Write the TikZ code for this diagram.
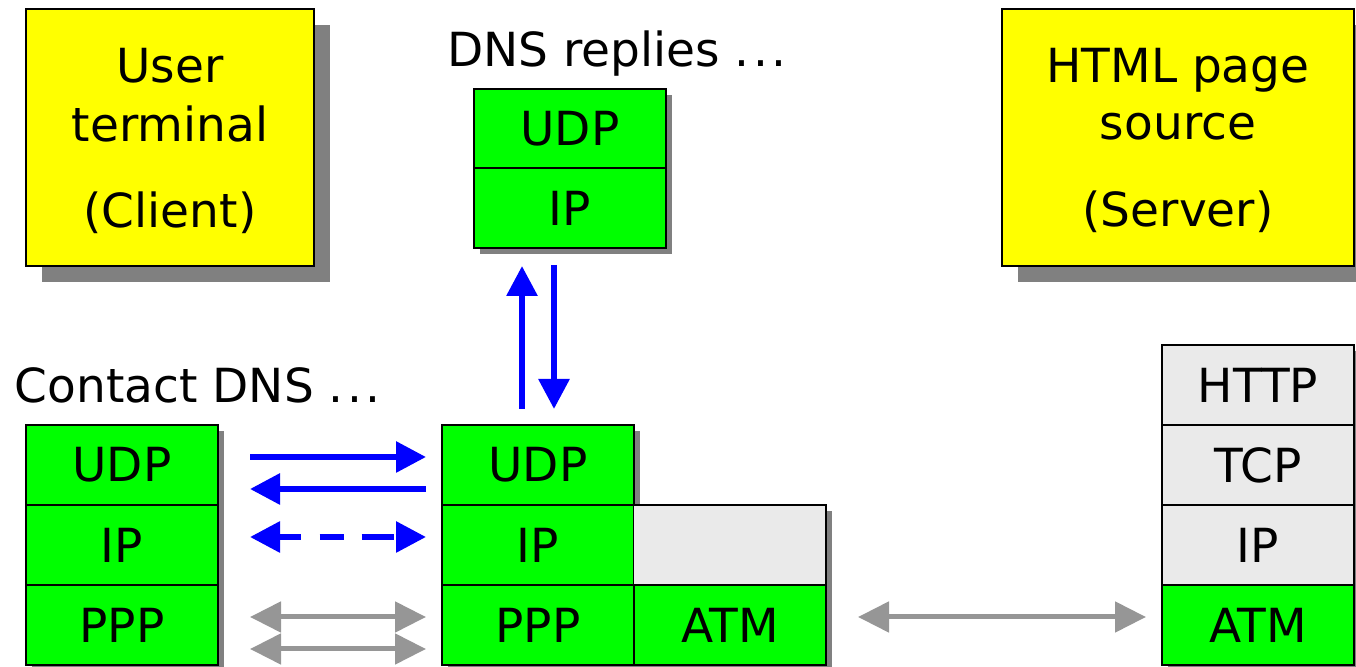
\documentclass[tikz,border=0pt]{standalone}
\usepackage{fontspec}
\setmainfont{DejaVu Sans}
\usetikzlibrary{arrows.meta,shadows}

\definecolor{layergreen}{RGB}{0,255,0}
\definecolor{hostyellow}{RGB}{255,255,0}
\definecolor{layergray}{RGB}{234,234,234}
\definecolor{shadegray}{RGB}{128,128,128}
\definecolor{linkgray}{RGB}{150,150,150}
\definecolor{flowblue}{RGB}{0,0,255}

\newcommand\spreaddots{.\kern1.75pt.\kern1.75pt.}

\begin{document}
\begin{tikzpicture}[x=0.5pt,y=-0.5pt,
  every node/.style={font=\fontsize{23.5}{28}\selectfont, inner sep=0pt, outer sep=0pt},
  smallshadow/.style={general shadow={fill=shadegray, shadow xshift=3pt, shadow yshift=-3pt}},
  bigshadow/.style={general shadow={fill=shadegray, shadow xshift=8pt, shadow yshift=-8pt}},
  layer/.style={draw=black, line width=1pt, minimum width=96pt, minimum height=40pt, smallshadow},
  greenlayer/.style={layer, fill=layergreen},
  graylayer/.style={layer, fill=layergray},
  host/.style={draw=black, line width=1pt, fill=hostyellow, minimum height=128.5pt, bigshadow},
  caption/.style={anchor=base},
  flow/.style={draw=flowblue, line width=3pt, line cap=butt},
  link/.style={draw=linkgray, line width=2.5pt, {Triangle[length=15.5pt,width=15pt]}-{Triangle[length=15.5pt,width=15pt]}},
  tip/.style={-{Triangle[length=15pt,width=15pt]}},
  both/.style={{Triangle[length=15pt,width=15pt]}-{Triangle[length=15pt,width=15pt]}},
]
\useasboundingbox (0,0) rectangle (1356,667);

% end hosts
\node[host, minimum width=144pt] (client) at (170,137.5) {};
\node[caption] (clientA) at (170,83) {User};
\node[caption] (clientB) at (170,142) {terminal};
\node[caption] (clientC) at (170,228) {(Client)};

\node[host, minimum width=176pt] (server) at (1178,137.5) {};
\node[caption] (serverA) at (1178,83) {HTML page};
\node[caption] (serverB) at (1178,140) {source};
\node[caption] (serverC) at (1178,227) {(Server)};

% DNS server stack
\node[anchor=base west] (replies) at (447,67) {DNS replies \spreaddots};
\node[greenlayer] (dUDP) at (570,129) {UDP};
\node[greenlayer] (dIP) at (570,208) {IP};

% client stack
\node[anchor=base west] (contact) at (15,403) {Contact DNS \spreaddots};
\node[greenlayer] (cUDP) at (122,465) {UDP};
\node[greenlayer] (cIP) at (122,545) {IP};
\node[greenlayer] (cPPP) at (122,625) {PPP};

% access router stack
\node[greenlayer] (rUDP) at (538,465) {UDP};
\node[greenlayer] (rIP) at (538,545) {IP};
\node[graylayer, draw=none] (rGap) at (730,545) {};
\draw[line width=1pt] (rGap.north west) -- (rGap.north east) -- (rGap.south east) -- (rGap.south west);
\node[greenlayer] (rPPP) at (538,625) {PPP};
\node[greenlayer] (rATM) at (730,625) {ATM};

% web server stack
\node[graylayer] (sHTTP) at (1258,385) {HTTP};
\node[graylayer] (sTCP) at (1258,465) {TCP};
\node[graylayer] (sIP) at (1258,545) {IP};
\node[greenlayer] (sATM) at (1258,625) {ATM};

% arrow end points
\coordinate (upA) at (522,409);   \coordinate (upB) at (522,266);
\coordinate (dnA) at (554,265);   \coordinate (dnB) at (554,409);
\coordinate (qA) at (250,457);    \coordinate (qB) at (426,457);
\coordinate (aA) at (426,489);    \coordinate (aB) at (250,489);
\coordinate (iA) at (250,537);    \coordinate (iB) at (426,537);
\coordinate (p1A) at (250,617);   \coordinate (p1B) at (426,617);
\coordinate (p2A) at (250,649);   \coordinate (p2B) at (426,649);
\coordinate (mA) at (858,617);    \coordinate (mB) at (1146,617);

% DNS traffic
\draw[flow, tip] (upA) -- (upB);
\draw[flow, tip] (dnA) -- (dnB);
\draw[flow, tip] (qA) -- (qB);
\draw[flow, tip] (aA) -- (aB);
\draw[flow, both, dash pattern=on 11pt off 9.5pt on 12pt off 9pt on 16pt off 1pt] (iA) -- (iB);

% link layer connections
\draw[link] (p1A) -- (p1B);
\draw[link] (p2A) -- (p2B);
\draw[link] (mA) -- (mB);
\end{tikzpicture}
\end{document}
